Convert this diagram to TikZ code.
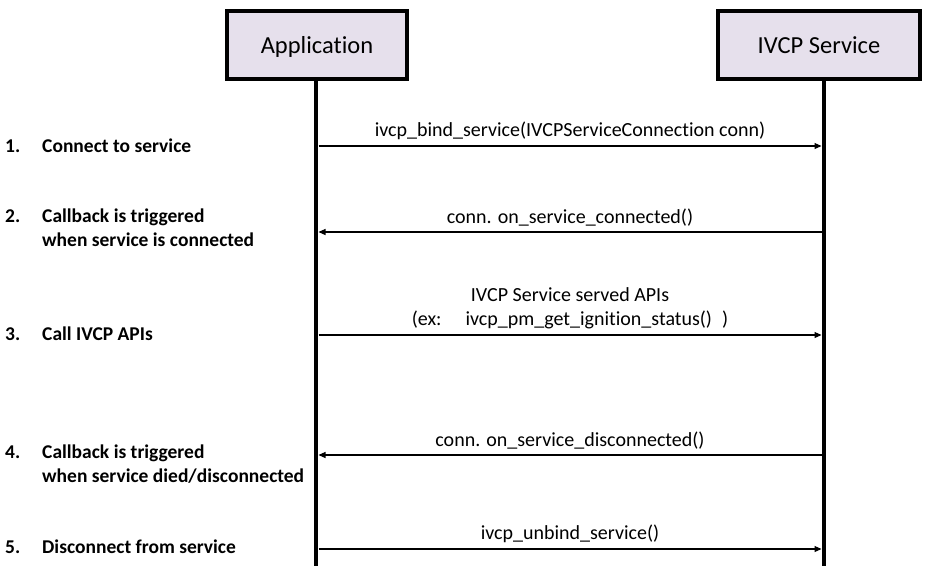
\documentclass[tikz,border=0pt]{standalone}
\usepackage{fontspec}
\setmainfont{Carlito}[Ligatures=NoCommon]
\usepackage{xcolor}
\definecolor{lilac}{HTML}{E6E0EC}
\usetikzlibrary{arrows.meta,positioning}
\begin{document}
\begin{tikzpicture}[x=1pt,y=-1pt,>={Triangle[length=7pt,width=6pt]}]
\tikzset{actor/.style={draw,line width=3.5pt,fill=lilac,minimum width=180pt,minimum height=68pt,text height=22pt,text depth=5pt,font=\fontsize{24.5}{28}\selectfont},
life/.style={line width=4pt},
msg/.style={line width=1.1pt},
lbl/.style={font=\fontsize{20}{24}\selectfont,above=2pt,align=center},
stepno/.style={font=\fontsize{19.5}{24}\selectfont\bfseries,anchor=west,inner sep=0pt},
steptxt/.style={font=\fontsize{19.5}{24}\selectfont\bfseries,anchor=west,align=left,inner sep=0pt}}
\useasboundingbox (0,0) rectangle (929,566);
\node[actor] (app) at (317,45){Application};
\node[actor,minimum width=202pt] (svc) at (819,45){IVCP Service};
\coordinate (appTop) at (316,81);\coordinate (appEnd) at (316,566);
\coordinate (svcTop) at (824,81);\coordinate (svcEnd) at (824,566);
\draw[life] (appTop)--(appEnd);
\draw[life] (svcTop)--(svcEnd);
\foreach \i/\y in {1/146,2/232,3/335,4/455,5/549}{
\coordinate (a\i) at (318.5,\y);\coordinate (s\i) at (821.5,\y);}
\draw[msg,->] (a1)--(s1) node[lbl,midway]{ivcp\_bind\_service(IVCPServiceConnection conn)};
\draw[msg,<-] (a2)--(s2) node[lbl,midway]{conn. on\_service\_connected()};
\draw[msg,->] (a3)--(s3) node[lbl,midway]{IVCP Service served APIs\\(ex:\hspace{1.2em}ivcp\_pm\_get\_ignition\_status()\hspace{0.5em})};
\draw[msg,<-] (a4)--(s4) node[lbl,midway]{conn. on\_service\_disconnected()};
\draw[msg,->] (a5)--(s5) node[lbl,midway]{ivcp\_unbind\_service()};
\node[stepno] (n1) at (5,146){1.};
\node[steptxt] (t1) at (42,146){Connect to service};
\node[stepno] (n2) at (5,216){2.};
\node[steptxt] (t2) at (42,228){Callback is triggered\\when service is connected};
\node[stepno] (n3) at (5,334){3.};
\node[steptxt] (t3) at (42,334){Call IVCP APIs};
\node[stepno] (n4) at (5,452){4.};
\node[steptxt] (t4) at (42,464){Callback is triggered\\when service died/disconnected};
\node[stepno] (n5) at (5,547){5.};
\node[steptxt] (t5) at (42,547){Disconnect from service};
\end{tikzpicture}
\end{document}
